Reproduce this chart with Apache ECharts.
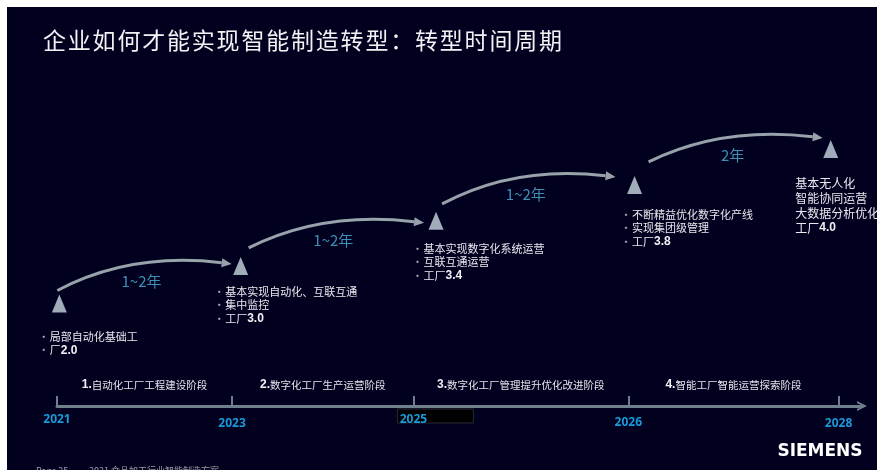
<!DOCTYPE html>
<html>
<head>
<meta charset="utf-8">
<script src="https://cdn.jsdelivr.net/npm/echarts@6/dist/echarts.min.js"></script>
<style>
  html, body { margin: 0; padding: 0; background: #fff; }
  #main { position: absolute; left: 7px; top: 7px; width: 870px; height: 463px; }
</style>
</head>
<body>
<div id="main"></div>
<script>
// 时间轴年份 + 在时间轴上的位置（2021→2028 全长的百分比）
const years = ['2021', '2023', '2025', '2026', '2028']
const yearPos = [0, 22.4, 45.6, 73.1, 100]
const phases = ['1.自动化工厂工程建设阶段', '2.数字化工厂生产运营阶段', '3.数字化工厂管理提升优化改进阶段', '4.智能工厂智能运营探索阶段']

// 阶梯节点（三角形）：横向位置 / 高度
const stepX = [0.3, 23.5, 48.5, 73.9, 99.0]
const stepLevel = [30.5, 41.7, 55.1, 65.8, 76.5]
const stepNotes = [
  ['局部自动化基础工', '厂2.0'],
  ['基本实现自动化、互联互通', '集中监控', '工厂3.0'],
  ['基本实现数字化系统运营', '互联互通运营', '工厂3.4'],
  ['不断精益优化数字化产线', '实现集团级管理', '工厂3.8'],
  ['基本无人化', '智能协同运营', '大数据分析优化', '工厂4.0']
]
const durations = ['1~2年', '1~2年', '1~2年', '2年']

// 版式（像素偏移）
const noteOffset = [[-21, 26.5], [-27, 19], [-24, 21], [-14, 23], [-35.5, 26.5]]
const arcStart = [[-2, -13], [8, -18], [6, -17], [14, -23]]
const arcEnd = [[-9, -2], [-12, 2], [-19, -8], [-8, -11]]
const yearDrop = [0, 4, 0, 3, 4]

const FONT = 'Noto Sans CJK SC'
const AXIS = '#6f7f8c'
const ARC = '#97a2ab'
const titleText = '企业如何才能实现智能制造转型：转型时间周期'

const bold = s => s.replace(/(\d\.\d)$/, '{b|$1}')

const chart = echarts.init(document.getElementById('main'))

const yearStyle = pad => ({ color: '#1a9ad8', fontSize: 12, fontWeight: 'bold', fontFamily: 'Noto Sans', padding: [pad, 0, 0, 0] })

const option = {
  backgroundColor: '#02001f',
  animation: false,
  title: {
    text: titleText.split('').map(c => '{c|' + c + '}').join(''),
    left: 31,
    top: 17,
    textStyle: {
      rich: {
        c: { fontSize: 23, fontWeight: 'normal', color: '#f2f2f5', fontFamily: FONT, padding: [0, 1.8, 0, 0] }
      }
    }
  },
  grid: { left: 50, right: 15, top: 63, bottom: 64 },
  xAxis: {
    type: 'value',
    min: 0,
    max: 103,
    splitLine: { show: false },
    axisLine: {
      show: true,
      lineStyle: { color: AXIS, width: 3 },
      symbol: ['none', 'path://M0,10 L5,0 L10,10 L8,10 L5,4 L2,10 Z'],
      symbolSize: [11, 10]
    },
    axisTick: {
      show: true,
      inside: true,
      length: 10,
      customValues: yearPos,
      lineStyle: { color: AXIS, width: 2 }
    },
    axisLabel: {
      customValues: yearPos,
      margin: 8,
      formatter: v => {
        const i = yearPos.indexOf(v)
        return '{y' + yearDrop[i] + '|' + years[i] + '}'
      },
      rich: { y0: yearStyle(0), y3: yearStyle(3), y4: yearStyle(4) }
    }
  },
  yAxis: { type: 'value', min: 0, max: 100, show: false },
  series: [
    {
      // 阶梯三角形
      type: 'scatter',
      symbol: 'triangle',
      symbolSize: [15, 18],
      itemStyle: { color: '#c8d7e1' },
      z: 5,
      data: stepX.map((x, i) => [x, stepLevel[i]])
    },
    {
      // 节点说明文字
      type: 'custom',
      data: stepX.map((x, i) => [x, stepLevel[i]]),
      encode: { x: 0, y: 1 },
      renderItem: (params, api) => {
        const i = params.dataIndex
        const p = api.coord([api.value(0), api.value(1)])
        const last = i === stepNotes.length - 1
        const lines = stepNotes[i].map(s => (last ? '' : '{d|·}') + bold(s))
        return {
          type: 'text',
          style: {
            x: p[0] + noteOffset[i][0],
            y: p[1] + noteOffset[i][1],
            text: lines.join('\n'),
            fill: '#e8e8ee',
            fontSize: last ? 12 : 11,
            fontFamily: FONT,
            lineHeight: last ? 15 : 13.5,
            verticalAlign: 'top',
            rich: {
              d: { width: 11.5, fill: '#a8a8b4' },
              b: { fontWeight: 'bold', fill: '#f0f0f4' }
            }
          }
        }
      }
    },
    {
      // 弧形箭头 + 周期
      type: 'custom',
      data: durations.map((d, i) => [stepX[i], stepLevel[i], stepX[i + 1], stepLevel[i + 1]]),
      encode: { x: [0, 2], y: [1, 3] },
      renderItem: (params, api) => {
        const i = params.dataIndex
        const a = api.coord([api.value(0), api.value(1)])
        const b = api.coord([api.value(2), api.value(3)])
        const s = [a[0] + arcStart[i][0], a[1] + arcStart[i][1]]
        const e = [b[0] + arcEnd[i][0], b[1] + arcEnd[i][1]]
        const cp = [s[0] + (e[0] - s[0]) * 0.42, e[1] - 12]
        let dx = e[0] - cp[0]
        let dy = e[1] - cp[1]
        const len = Math.hypot(dx, dy)
        dx /= len
        dy /= len
        const base = [e[0] - dx * 10, e[1] - dy * 10]
        return {
          type: 'group',
          children: [
            {
              type: 'bezierCurve',
              shape: { x1: s[0], y1: s[1], x2: base[0], y2: base[1], cpx1: cp[0], cpy1: cp[1] },
              style: { stroke: ARC, lineWidth: 3, fill: 'none' }
            },
            {
              type: 'polygon',
              shape: { points: [e, [base[0] - dy * 4.5, base[1] + dx * 4.5], [base[0] + dy * 4.5, base[1] - dx * 4.5]] },
              style: { fill: ARC }
            },
            {
              type: 'text',
              style: {
                text: durations[i],
                x: (s[0] + e[0]) / 2 - 3,
                y: e[1] + 17,
                align: 'center',
                verticalAlign: 'middle',
                fill: '#3d8fb8',
                fontSize: 15,
                fontFamily: FONT
              }
            }
          ]
        }
      }
    },
    {
      // 阶段名称
      type: 'custom',
      data: phases.map((p, i) => [(yearPos[i] + yearPos[i + 1]) / 2, 0]),
      encode: { x: 0, y: 1 },
      renderItem: (params, api) => {
        const i = params.dataIndex
        const p = api.coord([api.value(0), api.value(1)])
        return {
          type: 'text',
          style: {
            x: p[0],
            y: p[1] - 21,
            text: phases[i].replace(/^(\d\.)/, '{n|$1}'),
            align: 'center',
            verticalAlign: 'middle',
            fill: '#e4e4ea',
            fontSize: 10.5,
            fontFamily: FONT,
            rich: { n: { fontWeight: 'bold', fill: '#f0f0f4' } }
          }
        }
      }
    }
  ],
  graphic: [
    {
      id: 'logo',
      type: 'text',
      style: { x: 813, y: 445, text: 'SIEMENS', align: 'center', verticalAlign: 'middle', fill: '#ffffff', font: 'bold 17px "DejaVu Sans"' }
    },
    {
      id: 'page',
      type: 'text',
      style: { x: 29, y: 463.5, text: 'Page 25', verticalAlign: 'middle', fill: '#9c9ca8', font: '9px "Noto Sans CJK SC"' }
    },
    {
      id: 'doc',
      type: 'text',
      style: { x: 82, y: 463.5, text: '2021 食品加工行业智能制造方案', verticalAlign: 'middle', fill: '#9c9ca8', font: '9px "Noto Sans CJK SC"' }
    }
  ]
}

chart.setOption(option)

// 原图 2025 标签下的黑色底框
const px = chart.convertToPixel({ xAxisIndex: 0 }, yearPos[2])
const ay = chart.convertToPixel({ yAxisIndex: 0 }, 0)
chart.setOption({
  graphic: {
    elements: [
      {
        id: 'box2025',
        type: 'rect',
        z: -1,
        shape: { x: px - 16, y: ay + 3, width: 76, height: 14 },
        style: { fill: '#000000', stroke: '#2a2b36', lineWidth: 1 }
      }
    ]
  }
})
</script>
</body>
</html>
